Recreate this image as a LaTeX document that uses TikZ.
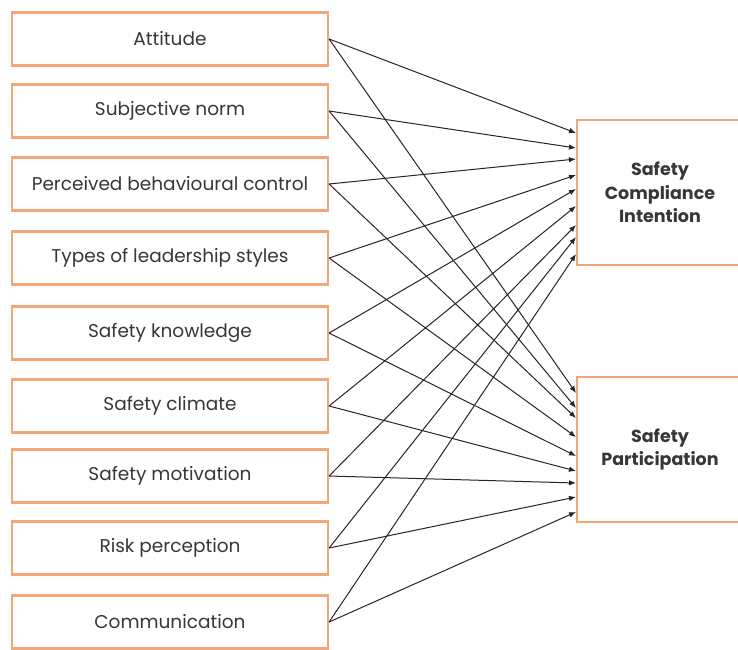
\documentclass[tikz,border=0pt]{standalone}
\usepackage{fontspec}
\setmainfont{Poppins}
\usetikzlibrary{arrows.meta}
\definecolor{boxorange}{RGB}{241,168,118}
\definecolor{txtgrey}{RGB}{55,55,55}
\begin{document}
\begin{tikzpicture}[x=1pt,y=-1pt,
  leftbox/.style={draw=boxorange,line width=2.2pt,fill=white,minimum width=316pt,minimum height=53pt,inner sep=0pt,
    font=\fontsize{18.5}{21}\selectfont,text=txtgrey},
  rightbox/.style={draw=boxorange,line width=2.2pt,fill=white,minimum width=166pt,minimum height=145pt,inner sep=0pt,
    font=\bfseries\fontsize{17.5}{23.5}\selectfont,text=txtgrey,align=center},
  conn/.style={-{Latex[length=7pt,width=5.5pt]},line width=1pt,draw=black!85}]
\useasboundingbox (0,0) rectangle (738,649);
\fill[white] (0,0) rectangle (738,649);
\node[leftbox] (a1) at (170,39) {Attitude};
\node[leftbox] (a2) at (170,111) {Subjective norm};
\node[leftbox] (a3) at (170,184) {Perceived behavioural control};
\node[leftbox] (a4) at (170,258) {Types of leadership styles};
\node[leftbox] (a5) at (170,333) {Safety knowledge};
\node[leftbox] (a6) at (170,406) {Safety climate};
\node[leftbox] (a7) at (170,476) {Safety motivation};
\node[leftbox] (a8) at (170,548) {Risk perception};
\node[leftbox] (a9) at (170,622) {Communication};
\node[rightbox] (sci) at (660,192.5) {Safety\\Compliance\\Intention};
\node[rightbox] (sp) at (660,449.5) {Safety\\Participation};
\foreach \i/\y in {1/133,2/148,3/159,4/175,5/189,6/206,7/225,8/237,9/254}{
  \coordinate (ci\i) at (576,\y);
}
\foreach \i/\y in {1/393,2/408,3/418,4/437,5/456,6/471,7/483,8/497,9/512}{
  \coordinate (pi\i) at (576,\y);
}
\foreach \i in {1,...,9}{
  \draw[conn] (a\i.east) -- (ci\i);
  \draw[conn] (a\i.east) -- (pi\i);
}
\end{tikzpicture}
\end{document}
